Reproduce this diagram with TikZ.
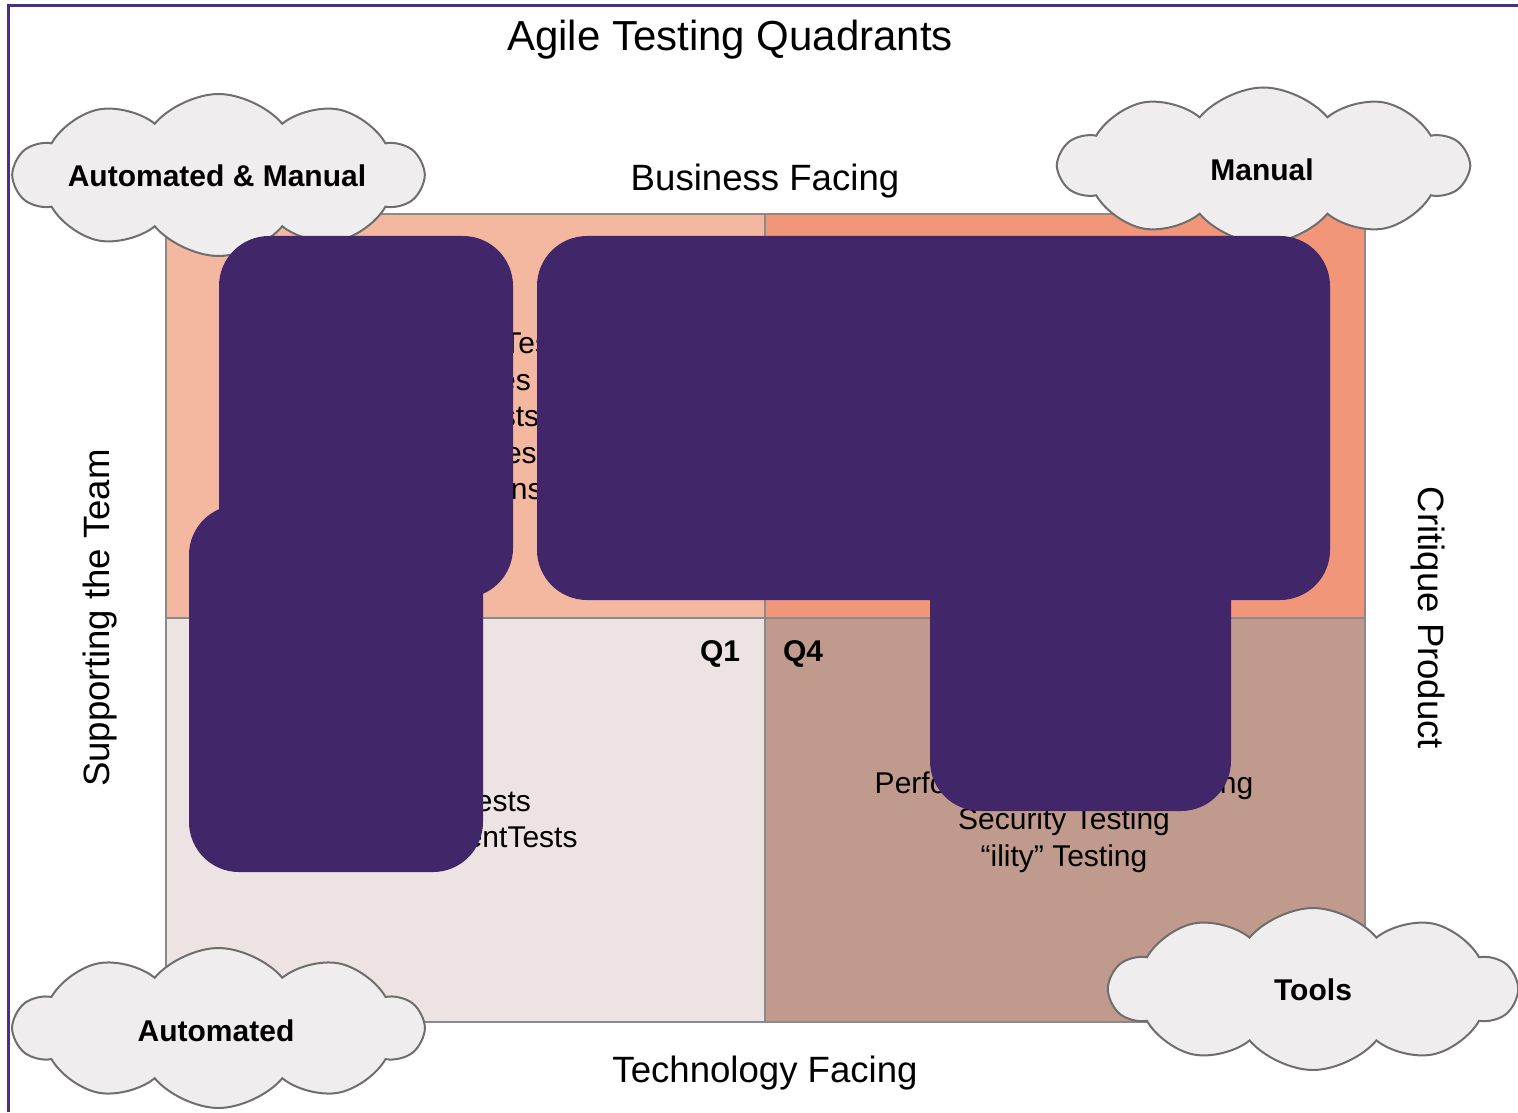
\documentclass[tikz,border=0pt]{standalone}
\usepackage{fontspec}
\setmainfont{Liberation Sans}
\usetikzlibrary{shapes.symbols}

\definecolor{frameline}{RGB}{75,45,130}
\definecolor{gridline}{RGB}{138,138,138}
\definecolor{qtwo}{RGB}{244,184,160}
\definecolor{qthree}{RGB}{242,150,122}
\definecolor{qone}{RGB}{237,227,226}
\definecolor{qfour}{RGB}{192,154,140}
\definecolor{cloudfill}{RGB}{239,237,238}
\definecolor{cloudline}{RGB}{110,110,110}
\definecolor{redact}{RGB}{66,38,106}

\tikzset{every picture/.style={line width=0.75pt}}

\begin{document}
\begin{tikzpicture}[x=0.5pt,y=0.5pt,yscale=-1,xscale=1,
	puff/.style={cloud, cloud puffs=10, cloud puff arc=100, cloud ignores aspect, draw=cloudline, fill=cloudfill, line width=1pt, minimum width=204pt, minimum height=80pt, inner sep=0pt},
	cloudtext/.style={font=\fontsize{15}{18}\selectfont\bfseries},
	axislabel/.style={font=\fontsize{18.3}{22}\selectfont},
	qtext/.style={align=center, font=\fontsize{15}{18.2}\selectfont},
	qlabel/.style={font=\fontsize{15}{18}\selectfont\bfseries},
	redactbox/.style={fill=redact, rounded corners=25pt}]
	\useasboundingbox (0,0) rectangle (1518,1112);

	%Straight Lines: frame
	\draw [frameline, line width=1.5pt] (8,1112) -- (8,6) -- (1518,6) ;

	%Shape: Rectangles (quadrants)
	\fill [qtwo] (166,214) rectangle (765,618) ;
	\fill [qthree] (765,214) rectangle (1365,618) ;
	\fill [qone] (166,618) rectangle (765,1022) ;
	\fill [qfour] (765,618) rectangle (1365,1022) ;
	\draw [gridline, line width=1pt] (166,214) rectangle (1365,1022) ;
	\draw [gridline, line width=1pt] (765,214) -- (765,1022) ;
	\draw [gridline, line width=1pt] (166,618) -- (1365,618) ;

	%Text
	\node [font=\fontsize{21}{25}\selectfont] (title) at (730,40) {Agile Testing Quadrants};
	\node [axislabel] (business) at (765,181) {Business Facing};
	\node [axislabel] (technology) at (765,1073) {Technology Facing};
	\node [axislabel, rotate=90] (supporting) at (100,618) {Supporting the Team};
	\node [axislabel, rotate=-90] (critique) at (1428,618) {Critique Product};

	\node [qlabel] (qonelabel) at (720,654) {Q1};
	\node [qlabel] (qfourlabel) at (803,654) {Q4};

	\node [qtext] (qtwotext) at (465,416) {Functional Tests\\Examples\\Story Tests\\Prototypes\\Simulations};
	\node [qtext] (qonetext) at (465,822) {Unit Tests\\ComponentTests};
	\node [qtext] (qfourtext) at (1064,822) {Performance \& Load Testing\\Security Testing\\“ility” Testing};

	%Shape: Clouds
	\node [puff, minimum height=81pt] (automanualcloud) at (218.5,175) {};
	\node [cloudtext] (automanual) at (217,176) {Automated \& Manual};
	\node [puff, minimum height=78pt] (manualcloud) at (1263.5,165.5) {};
	\node [cloudtext] (manual) at (1262,170) {Manual};
	\node [puff] (automatedcloud) at (218.5,1028) {};
	\node [cloudtext] (automated) at (216,1031) {Automated};
	\node [puff, minimum width=203pt, minimum height=81pt] (toolscloud) at (1313,989) {};
	\node [cloudtext] (tools) at (1313,990) {Tools};

	%Shape: Rounded Rectangles (redactions)
	\fill [redactbox] (219,236) rectangle (513,598) ;
	\fill [redactbox] (537,236) rectangle (1330,600) ;
	\fill [redactbox] (189,505) rectangle (483,872) ;
	\fill [redactbox] (930,540) rectangle (1231,811) ;

\end{tikzpicture}
\end{document}
